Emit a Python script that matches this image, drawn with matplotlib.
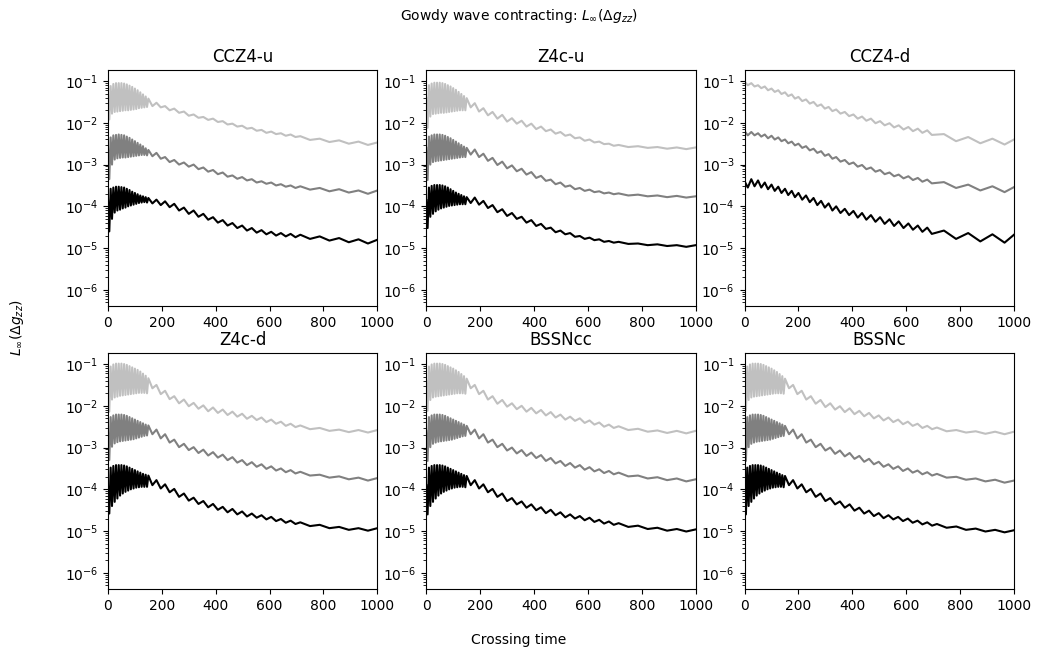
import matplotlib
matplotlib.use("Agg")
import matplotlib.pyplot as plt
import numpy as np

# Values are log10 of L_inf(dg_zz) at the peaks (pk)
# and troughs (tr) of the oscillation. Curves: light = coarse, dark = medium, black = fine.

# extrema times shared by the five strongly oscillating runs
t_pk_a = [0, 10, 20, 30, 40, 50, 60, 70, 80, 90, 100, 110, 120, 130, 140, 150,
          180, 212, 246, 282, 318, 354, 390, 426, 462, 498, 534, 570, 606, 642, 678, 714,
          786, 858, 930, 1000]
t_tr_a = [5, 15, 25, 35, 45, 55, 65, 75, 85, 95, 105, 115, 125, 135, 145,
          165, 196, 229, 264, 300, 336, 372, 408, 444, 480, 516, 552, 588, 624, 660, 696,
          750, 822, 894, 965]

# extrema times for CCZ4-d
t_pk_d = [0, 25, 50, 75, 100, 125, 150, 175, 200, 228, 256, 284, 312, 340, 372, 404, 436,
          469, 503, 538, 572, 608, 643, 678, 740, 830, 920, 1000]
t_tr_d = [12, 37, 62, 87, 112, 137, 162, 187, 214, 242, 270, 298, 326, 356, 388, 420, 452,
          486, 520, 555, 590, 625, 660, 695, 785, 875, 965]

# CCZ4-u
ccz4u_light_pk = [-1.30, -1.12, -1.07, -1.05, -1.05, -1.05, -1.06, -1.08, -1.11, -1.14, -1.18, -1.22, -1.27, -1.32, -1.37, -1.42,
                  -1.52, -1.60, -1.66, -1.73, -1.80, -1.86, -1.90, -1.96, -2.02, -2.07, -2.12, -2.17, -2.21, -2.25, -2.28, -2.32,
                  -2.38, -2.42, -2.45, -2.47]
ccz4u_light_tr = [-1.92, -1.78, -1.74, -1.73, -1.72, -1.71, -1.70, -1.70, -1.69, -1.68, -1.67, -1.65, -1.64, -1.63, -1.62,
                  -1.60, -1.63, -1.70, -1.76, -1.83, -1.88, -1.93, -1.98, -2.04, -2.09, -2.14, -2.19, -2.24, -2.27, -2.31, -2.34,
                  -2.41, -2.46, -2.50, -2.53]
ccz4u_dark_pk = [-2.55, -2.35, -2.30, -2.29, -2.28, -2.29, -2.30, -2.33, -2.36, -2.40, -2.44, -2.48, -2.52, -2.56, -2.61, -2.65,
                 -2.72, -2.82, -2.89, -2.95, -3.00, -3.07, -3.13, -3.19, -3.26, -3.30, -3.35, -3.40, -3.43, -3.47, -3.50, -3.52,
                 -3.56, -3.59, -3.62, -3.62]
ccz4u_dark_tr = [-3.35, -3.00, -2.88, -2.85, -2.84, -2.83, -2.83, -2.82, -2.81, -2.80, -2.79, -2.78, -2.77, -2.77, -2.78,
                 -2.80, -2.86, -2.94, -3.00, -3.05, -3.11, -3.17, -3.23, -3.29, -3.34, -3.38, -3.43, -3.46, -3.50, -3.53, -3.56,
                 -3.60, -3.64, -3.67, -3.70]
ccz4u_black_pk = [-3.80, -3.58, -3.55, -3.53, -3.53, -3.54, -3.55, -3.58, -3.61, -3.65, -3.68, -3.71, -3.74, -3.76, -3.78, -3.80,
                  -3.84, -3.88, -3.94, -4.03, -4.10, -4.18, -4.26, -4.33, -4.40, -4.46, -4.52, -4.57, -4.61, -4.64, -4.66, -4.68,
                  -4.72, -4.76, -4.79, -4.80]
ccz4u_black_tr = [-4.60, -4.30, -4.15, -4.10, -4.08, -4.05, -4.03, -4.00, -3.98, -3.96, -3.94, -3.92, -3.91, -3.90, -3.91,
                  -3.93, -3.97, -4.02, -4.10, -4.18, -4.25, -4.32, -4.39, -4.46, -4.52, -4.58, -4.63, -4.67, -4.70, -4.72, -4.74,
                  -4.78, -4.82, -4.86, -4.89]

# Z4c-u
z4cu_light_pk = [-1.40, -1.10, -1.06, -1.04, -1.04, -1.04, -1.05, -1.07, -1.10, -1.13, -1.17, -1.21, -1.26, -1.31, -1.36, -1.41,
                 -1.53, -1.65, -1.74, -1.81, -1.89, -1.95, -2.02, -2.09, -2.16, -2.22, -2.28, -2.35, -2.40, -2.45, -2.50, -2.53,
                 -2.56, -2.58, -2.59, -2.59]
z4cu_light_tr = [-2.12, -1.85, -1.79, -1.78, -1.77, -1.76, -1.76, -1.75, -1.74, -1.73, -1.72, -1.71, -1.70, -1.70, -1.70,
                 -1.63, -1.73, -1.82, -1.90, -1.97, -2.02, -2.09, -2.15, -2.20, -2.26, -2.31, -2.37, -2.43, -2.47, -2.51, -2.55,
                 -2.58, -2.60, -2.62, -2.63]
z4cu_dark_pk = [-2.60, -2.33, -2.30, -2.28, -2.28, -2.28, -2.29, -2.31, -2.34, -2.37, -2.41, -2.45, -2.49, -2.53, -2.57, -2.60,
                -2.64, -2.74, -2.84, -2.93, -3.02, -3.10, -3.18, -3.27, -3.36, -3.43, -3.50, -3.56, -3.60, -3.64, -3.67, -3.69,
                -3.72, -3.74, -3.75, -3.76]
z4cu_dark_tr = [-3.37, -3.00, -2.94, -2.92, -2.91, -2.90, -2.89, -2.88, -2.87, -2.86, -2.85, -2.84, -2.83, -2.82, -2.82,
                -2.76, -2.82, -2.91, -3.01, -3.09, -3.16, -3.24, -3.32, -3.39, -3.47, -3.53, -3.59, -3.63, -3.66, -3.69, -3.71,
                -3.74, -3.76, -3.78, -3.79]
z4cu_black_pk = [-3.85, -3.55, -3.51, -3.49, -3.49, -3.49, -3.50, -3.52, -3.55, -3.59, -3.63, -3.67, -3.70, -3.73, -3.76, -3.78,
                 -3.79, -3.87, -3.97, -4.07, -4.16, -4.25, -4.33, -4.42, -4.51, -4.58, -4.64, -4.71, -4.75, -4.79, -4.83, -4.85,
                 -4.89, -4.91, -4.93, -4.93]
z4cu_black_tr = [-4.52, -4.25, -4.18, -4.12, -4.08, -4.05, -4.03, -4.01, -3.99, -3.98, -3.97, -3.96, -3.95, -3.95, -3.95,
                 -3.92, -3.96, -4.04, -4.14, -4.23, -4.30, -4.39, -4.47, -4.54, -4.62, -4.67, -4.73, -4.78, -4.81, -4.85, -4.87,
                 -4.90, -4.93, -4.95, -4.97]

# CCZ4-d
ccz4d_light_pk = [-1.02, -1.05, -1.10, -1.13, -1.18, -1.22, -1.27, -1.32, -1.38, -1.44, -1.50, -1.56, -1.62, -1.68,
                  -1.74, -1.80, -1.85, -1.90, -1.96, -2.01, -2.06, -2.10, -2.14, -2.18, -2.27, -2.34, -2.38, -2.40]
ccz4d_light_tr = [-1.10, -1.13, -1.17, -1.22, -1.26, -1.31, -1.36, -1.42, -1.48, -1.54, -1.60, -1.66, -1.72, -1.78,
                  -1.84, -1.90, -1.95, -2.01, -2.06, -2.11, -2.16, -2.20, -2.24, -2.29, -2.44, -2.49, -2.52]
ccz4d_dark_pk = [-2.20, -2.22, -2.25, -2.28, -2.31, -2.35, -2.40, -2.45, -2.50, -2.56, -2.62, -2.68, -2.75, -2.82,
                 -2.89, -2.95, -3.01, -3.07, -3.13, -3.19, -3.24, -3.28, -3.32, -3.36, -3.42, -3.48, -3.52, -3.54]
ccz4d_dark_tr = [-2.30, -2.30, -2.33, -2.37, -2.40, -2.44, -2.49, -2.54, -2.60, -2.66, -2.72, -2.79, -2.86, -2.93,
                 -2.99, -3.05, -3.11, -3.17, -3.23, -3.28, -3.33, -3.37, -3.41, -3.45, -3.56, -3.62, -3.66]
ccz4d_black_pk = [-3.40, -3.35, -3.38, -3.43, -3.48, -3.53, -3.58, -3.63, -3.68, -3.74, -3.80, -3.87, -3.93, -4.00,
                  -4.06, -4.11, -4.16, -4.21, -4.26, -4.31, -4.36, -4.41, -4.46, -4.51, -4.58, -4.64, -4.67, -4.68]
ccz4d_black_tr = [-3.55, -3.52, -3.55, -3.59, -3.63, -3.68, -3.73, -3.78, -3.84, -3.90, -3.97, -4.03, -4.10, -4.16,
                  -4.21, -4.27, -4.32, -4.37, -4.42, -4.47, -4.52, -4.56, -4.61, -4.66, -4.78, -4.84, -4.87]

# Z4c-d
z4cd_light_pk = [-1.40, -1.06, -1.01, -0.99, -0.99, -0.99, -1.00, -1.02, -1.05, -1.08, -1.11, -1.14, -1.18, -1.23, -1.28, -1.34,
                 -1.50, -1.64, -1.77, -1.85, -1.93, -1.99, -2.04, -2.09, -2.14, -2.19, -2.24, -2.28, -2.33, -2.38, -2.43, -2.47,
                 -2.53, -2.57, -2.58, -2.58]
z4cd_light_tr = [-2.14, -1.85, -1.80, -1.78, -1.76, -1.75, -1.74, -1.73, -1.72, -1.71, -1.70, -1.69, -1.69, -1.69, -1.70,
                 -1.58, -1.72, -1.84, -1.94, -2.01, -2.07, -2.13, -2.17, -2.22, -2.26, -2.31, -2.34, -2.39, -2.43, -2.48, -2.51,
                 -2.56, -2.60, -2.63, -2.64]
z4cd_dark_pk = [-2.60, -2.27, -2.23, -2.21, -2.21, -2.21, -2.22, -2.24, -2.27, -2.30, -2.33, -2.36, -2.39, -2.42, -2.45, -2.47,
                -2.57, -2.68, -2.81, -2.91, -2.99, -3.05, -3.11, -3.17, -3.23, -3.30, -3.35, -3.40, -3.45, -3.50, -3.54, -3.58,
                -3.65, -3.69, -3.72, -3.73]
z4cd_dark_tr = [-3.30, -2.98, -2.90, -2.87, -2.85, -2.84, -2.83, -2.82, -2.81, -2.80, -2.78, -2.76, -2.74, -2.72, -2.71,
                -2.68, -2.78, -2.88, -2.99, -3.06, -3.13, -3.19, -3.24, -3.30, -3.36, -3.42, -3.46, -3.51, -3.55, -3.59, -3.62,
                -3.67, -3.72, -3.76, -3.79]
z4cd_black_pk = [-3.90, -3.48, -3.44, -3.42, -3.42, -3.42, -3.43, -3.45, -3.48, -3.51, -3.54, -3.57, -3.60, -3.63, -3.65, -3.67,
                 -3.78, -3.88, -3.99, -4.10, -4.20, -4.28, -4.35, -4.42, -4.47, -4.53, -4.58, -4.62, -4.66, -4.71, -4.75, -4.79,
                 -4.85, -4.90, -4.93, -4.93]
z4cd_black_tr = [-4.58, -4.40, -4.30, -4.22, -4.15, -4.10, -4.06, -4.03, -4.00, -3.98, -3.96, -3.95, -3.94, -3.94, -3.94,
                 -3.90, -3.98, -4.07, -4.18, -4.27, -4.35, -4.43, -4.49, -4.55, -4.60, -4.65, -4.68, -4.72, -4.76, -4.80, -4.83,
                 -4.88, -4.93, -4.97, -4.99]

# BSSNcc
bssncc_light_pk = [-1.40, -1.06, -1.01, -0.99, -0.99, -0.99, -1.00, -1.02, -1.05, -1.08, -1.11, -1.15, -1.19, -1.24, -1.29, -1.35,
                   -1.50, -1.64, -1.77, -1.86, -1.94, -2.00, -2.05, -2.10, -2.15, -2.21, -2.26, -2.30, -2.35, -2.40, -2.45, -2.49,
                   -2.55, -2.59, -2.60, -2.60]
bssncc_light_tr = [-2.12, -1.86, -1.80, -1.78, -1.77, -1.76, -1.75, -1.74, -1.73, -1.72, -1.71, -1.70, -1.70, -1.70, -1.71,
                   -1.58, -1.72, -1.85, -1.95, -2.02, -2.08, -2.14, -2.18, -2.23, -2.28, -2.33, -2.36, -2.41, -2.45, -2.50, -2.53,
                   -2.58, -2.62, -2.65, -2.66]
bssncc_dark_pk = [-2.60, -2.27, -2.23, -2.21, -2.21, -2.21, -2.22, -2.24, -2.27, -2.30, -2.33, -2.36, -2.39, -2.42, -2.45, -2.48,
                  -2.57, -2.68, -2.81, -2.91, -3.00, -3.06, -3.12, -3.18, -3.25, -3.32, -3.37, -3.42, -3.47, -3.52, -3.56, -3.60,
                  -3.67, -3.71, -3.74, -3.76]
bssncc_dark_tr = [-3.32, -2.99, -2.91, -2.88, -2.86, -2.85, -2.84, -2.83, -2.82, -2.81, -2.79, -2.77, -2.75, -2.73, -2.72,
                  -2.68, -2.78, -2.88, -2.99, -3.07, -3.14, -3.20, -3.25, -3.32, -3.38, -3.44, -3.48, -3.53, -3.57, -3.61, -3.64,
                  -3.69, -3.74, -3.78, -3.81]
bssncc_black_pk = [-3.90, -3.48, -3.44, -3.42, -3.42, -3.42, -3.43, -3.45, -3.48, -3.51, -3.54, -3.57, -3.60, -3.63, -3.66, -3.68,
                   -3.78, -3.88, -3.99, -4.10, -4.21, -4.29, -4.36, -4.43, -4.49, -4.55, -4.60, -4.64, -4.68, -4.73, -4.77, -4.81,
                   -4.87, -4.92, -4.95, -4.96]
bssncc_black_tr = [-4.60, -4.40, -4.30, -4.22, -4.15, -4.10, -4.06, -4.03, -4.00, -3.98, -3.96, -3.95, -3.94, -3.94, -3.95,
                   -3.90, -3.98, -4.07, -4.18, -4.28, -4.36, -4.44, -4.50, -4.57, -4.62, -4.67, -4.70, -4.74, -4.78, -4.82, -4.85,
                   -4.90, -4.95, -4.99, -5.01]

# BSSNc
bssnc_light_pk = [-1.40, -1.06, -1.01, -0.99, -0.99, -0.99, -1.00, -1.02, -1.05, -1.08, -1.11, -1.15, -1.19, -1.24, -1.29, -1.35,
                  -1.50, -1.64, -1.77, -1.86, -1.94, -2.01, -2.06, -2.12, -2.17, -2.23, -2.28, -2.33, -2.38, -2.43, -2.48, -2.52,
                  -2.58, -2.61, -2.62, -2.62]
bssnc_light_tr = [-2.12, -1.86, -1.80, -1.78, -1.77, -1.76, -1.75, -1.74, -1.73, -1.72, -1.71, -1.70, -1.70, -1.70, -1.71,
                  -1.58, -1.72, -1.85, -1.95, -2.03, -2.09, -2.15, -2.20, -2.25, -2.30, -2.35, -2.39, -2.44, -2.48, -2.53, -2.56,
                  -2.61, -2.64, -2.67, -2.68]
bssnc_dark_pk = [-2.60, -2.27, -2.23, -2.21, -2.21, -2.21, -2.22, -2.24, -2.27, -2.30, -2.33, -2.36, -2.39, -2.42, -2.45, -2.48,
                 -2.57, -2.68, -2.81, -2.91, -3.00, -3.07, -3.13, -3.20, -3.27, -3.34, -3.40, -3.45, -3.50, -3.55, -3.59, -3.63,
                 -3.70, -3.74, -3.77, -3.79]
bssnc_dark_tr = [-3.32, -2.99, -2.91, -2.88, -2.86, -2.85, -2.84, -2.83, -2.82, -2.81, -2.79, -2.77, -2.75, -2.73, -2.72,
                 -2.68, -2.78, -2.88, -2.99, -3.07, -3.15, -3.21, -3.27, -3.34, -3.40, -3.46, -3.51, -3.56, -3.60, -3.64, -3.67,
                 -3.72, -3.77, -3.81, -3.84]
bssnc_black_pk = [-3.90, -3.48, -3.44, -3.42, -3.42, -3.42, -3.43, -3.45, -3.48, -3.51, -3.54, -3.57, -3.60, -3.63, -3.66, -3.68,
                  -3.78, -3.88, -3.99, -4.10, -4.21, -4.29, -4.36, -4.44, -4.51, -4.57, -4.62, -4.66, -4.70, -4.75, -4.79, -4.83,
                  -4.89, -4.94, -4.97, -4.98]
bssnc_black_tr = [-4.60, -4.40, -4.30, -4.22, -4.15, -4.10, -4.06, -4.03, -4.00, -3.98, -3.96, -3.95, -3.94, -3.94, -3.95,
                  -3.90, -3.98, -4.07, -4.18, -4.28, -4.36, -4.44, -4.51, -4.58, -4.64, -4.69, -4.72, -4.76, -4.80, -4.84, -4.87,
                  -4.92, -4.97, -5.01, -5.03]

titles = ["CCZ4-u", "Z4c-u", "CCZ4-d", "Z4c-d", "BSSNcc", "BSSNc"]
colors = ["#c0c0c0", "#808080", "black"]

panels = [
    (t_pk_a, t_tr_a, [(ccz4u_light_pk, ccz4u_light_tr), (ccz4u_dark_pk, ccz4u_dark_tr), (ccz4u_black_pk, ccz4u_black_tr)]),
    (t_pk_a, t_tr_a, [(z4cu_light_pk, z4cu_light_tr), (z4cu_dark_pk, z4cu_dark_tr), (z4cu_black_pk, z4cu_black_tr)]),
    (t_pk_d, t_tr_d, [(ccz4d_light_pk, ccz4d_light_tr), (ccz4d_dark_pk, ccz4d_dark_tr), (ccz4d_black_pk, ccz4d_black_tr)]),
    (t_pk_a, t_tr_a, [(z4cd_light_pk, z4cd_light_tr), (z4cd_dark_pk, z4cd_dark_tr), (z4cd_black_pk, z4cd_black_tr)]),
    (t_pk_a, t_tr_a, [(bssncc_light_pk, bssncc_light_tr), (bssncc_dark_pk, bssncc_dark_tr), (bssncc_black_pk, bssncc_black_tr)]),
    (t_pk_a, t_tr_a, [(bssnc_light_pk, bssnc_light_tr), (bssnc_dark_pk, bssnc_dark_tr), (bssnc_black_pk, bssnc_black_tr)]),
]


def merge(tp, vp, tt, vt):
    # put peaks and troughs in time order
    t = np.array(tp + tt, dtype=float)
    v = np.array(vp + vt, dtype=float)
    order = np.argsort(t)
    return t[order], 10.0 ** v[order]


fig, axes = plt.subplots(2, 3, figsize=(10.37, 6.56), dpi=100)
fig.subplots_adjust(left=0.1041, right=0.9778, top=0.8933, bottom=0.1021, wspace=0.1815, hspace=0.199)

for ax, title, (tp, tt, curves) in zip(axes.flat, titles, panels):
    for (vp, vt), c in zip(curves, colors):
        t, v = merge(tp, vp, tt, vt)
        ax.plot(t, v, color=c, lw=1.5)
    ax.set_yscale("log")
    ax.set_ylim(4.1e-7, 0.184)
    ax.set_xlim(0, 1000)
    ax.set_xticks([0, 200, 400, 600, 800, 1000])
    ax.set_title(title, fontsize=12)

fig.suptitle(r"Gowdy wave contracting: $L_\infty(\Delta g_{zz})$", fontsize=10, y=0.99)
fig.text(0.5, 0.024, "Crossing time", ha="center", va="center", fontsize=10)
fig.text(0.016, 0.5, r"$L_\infty(\Delta g_{zz})$", ha="center", va="center", rotation=90, fontsize=10)

fig.savefig("out.png", dpi=100)
